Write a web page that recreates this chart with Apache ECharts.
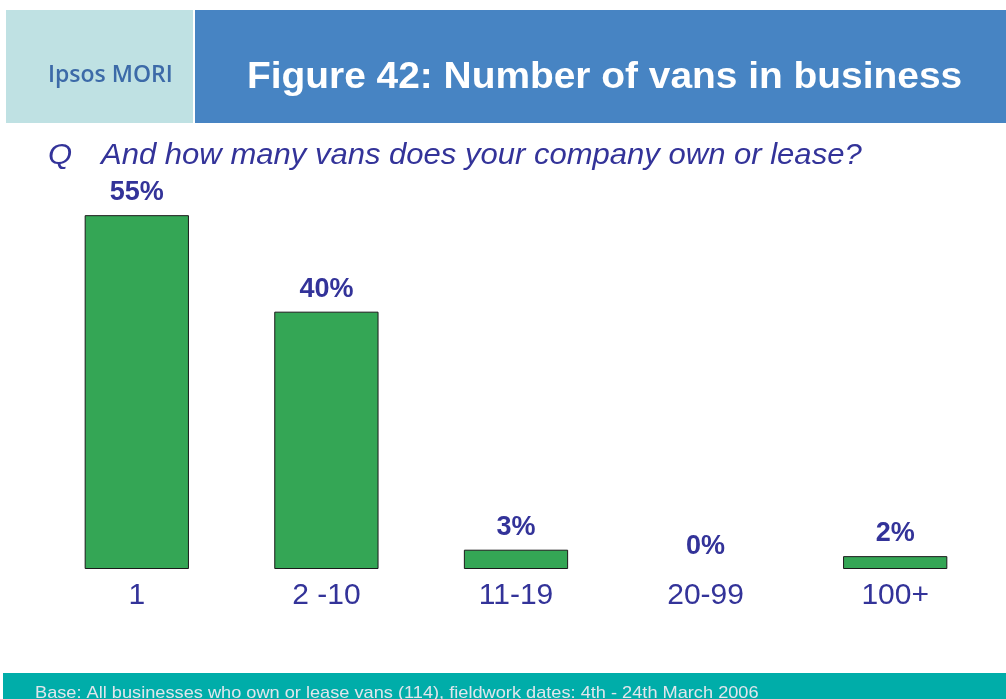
<!DOCTYPE html>
<html>
<head>
<meta charset="utf-8">
<style>
  html, body { margin: 0; padding: 0; background: #ffffff; }
  #chart { width: 1006px; height: 699px; }
</style>
<script src="https://cdn.jsdelivr.net/npm/echarts@6/dist/echarts.min.js"></script>
</head>
<body>
<div id="chart"></div>
<script>
// Survey answers: number of vans a business owns or leases
const categories = ['1', '2 -10', '11-19', '20-99', '100+'];
const shares = [55, 40, 3, 0, 2];

const titleText = 'Figure 42: Number of vans in business';
const questionText = 'And how many vans does your company own or lease?';
const baseText = 'Base: All businesses who own or lease vans (114), fieldwork dates: 4th - 24th March 2006';

const FONT = 'Arial';
const NAVY = '#333399';
const WIDEN = 1.07; // slide text is set slightly wide

const chart = echarts.init(document.getElementById('chart'), null, { renderer: 'canvas' });

function txt(x, y, text, fill, size, weight, style, family, sx) {
  return {
    type: 'text', x: x, y: y, silent: true,
    scaleX: sx || WIDEN,
    style: {
      text: text, fill: fill,
      fontFamily: family || FONT, fontSize: size,
      fontWeight: weight || 'normal', fontStyle: style || 'normal',
      align: 'left', verticalAlign: 'middle'
    }
  };
}

chart.setOption({
  backgroundColor: '#ffffff',
  animation: false,
  grid: { left: 42, right: 16, top: 183, bottom: 130 },
  xAxis: {
    type: 'category',
    data: categories,
    axisLine: { show: false },
    axisTick: { show: false },
    axisLabel: {
      color: NAVY,
      fontFamily: FONT,
      fontSize: 30,
      margin: 12
    }
  },
  yAxis: {
    type: 'value',
    min: 0,
    max: 60,
    show: false,
    splitLine: { show: false }
  },
  series: [{
    type: 'bar',
    barWidth: '55%',
    data: shares.map(v => ({
      value: v,
      itemStyle: { borderWidth: v === 0 ? 0 : 1 }
    })),
    itemStyle: {
      color: '#34a655',
      borderColor: '#1a1a1a',
      borderWidth: 1
    },
    label: {
      show: true,
      position: 'top',
      distance: 9,
      formatter: p => p.value + '%',
      color: NAVY,
      fontFamily: FONT,
      fontWeight: 'bold',
      fontSize: 27
    }
  }],
  graphic: [
    // header: logo panel and title panel
    { type: 'rect', silent: true, shape: { x: 6, y: 10, width: 187, height: 113 }, style: { fill: '#bfe1e3' } },
    { type: 'rect', silent: true, shape: { x: 195, y: 10, width: 811, height: 113 }, style: { fill: '#4784c3' } },
    txt(48, 75, 'Ipsos MORI', '#3c6aa8', 23, 600, 'normal', '"Open Sans"', 1),
    txt(247, 78, titleText, '#ffffff', 36, 'bold', 'normal', FONT, 1.08),
    // question line
    txt(48, 156, 'Q', NAVY, 29, 'normal', 'italic'),
    txt(101, 156, questionText, NAVY, 29, 'normal', 'italic'),
    // footer band with base note
    { type: 'rect', silent: true, shape: { x: 3, y: 673, width: 1003, height: 26 }, style: { fill: '#00ada9' } },
    txt(35, 693, baseText, '#dfe6ec', 17)
  ]
});
</script>
</body>
</html>
